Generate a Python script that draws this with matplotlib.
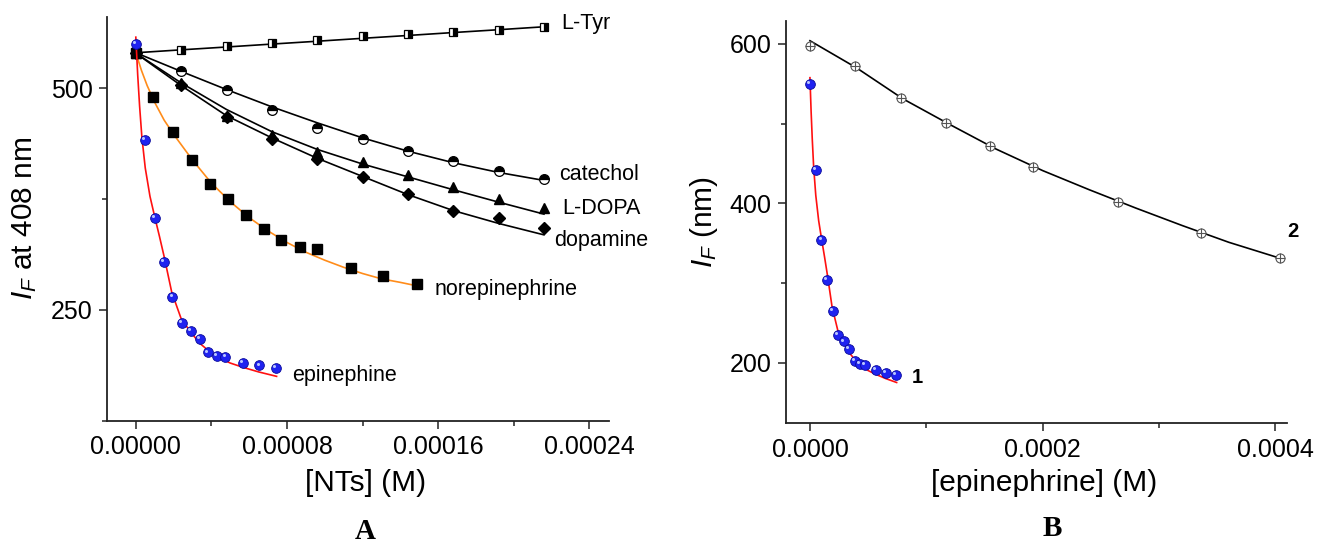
import numpy as np
import matplotlib
matplotlib.use("Agg")
import matplotlib.pyplot as plt
from matplotlib.ticker import FormatStrFormatter, MultipleLocator
from matplotlib.transforms import offset_copy

plt.rcParams['font.family'] = ['Liberation Sans', 'DejaVu Sans']
plt.rcParams['mathtext.fontset'] = 'custom'
plt.rcParams['mathtext.rm'] = 'Liberation Sans'
plt.rcParams['mathtext.it'] = 'Liberation Sans:italic'

# ---- panel A: quenching by the neurotransmitters ----
nt_x = [0, 2.4e-5, 4.8e-5, 7.2e-5, 9.6e-5, 1.2e-4, 1.44e-4, 1.68e-4, 1.92e-4, 2.16e-4]
tyr_y = [541, 543.5, 547.5, 551, 554.5, 558.5, 561, 563.5, 566, 569]
tyr_fit = [540, 543.3, 546.5, 549.8, 553, 556.3, 559.5, 562.8, 566, 569.3]
catechol_y = [540, 519, 498, 475.5, 455, 443, 429.6, 418, 407, 397.5]
catechol_fit = [540, 519, 498.5, 479, 461, 444, 429, 416, 405, 396]
ldopa_y = [540, 506, 468.5, 447, 428.5, 417, 402, 388.4, 374.8, 364.7]
ldopa_fit = [539.5, 506, 476, 451, 431, 414.5, 400, 385.5, 371.5, 358]
dopamine_y = [540, 503.7, 467, 443, 420, 399.6, 380.5, 362, 354, 342.8]
dopamine_fit = [539.5, 503, 469, 444, 421, 400.5, 380, 362, 347.5, 334.6]

nor_x = [0, 9.3e-6, 1.99e-5, 2.96e-5, 3.93e-5, 4.87e-5, 5.82e-5, 6.8e-5, 7.7e-5,
         8.7e-5, 9.6e-5, 1.14e-4, 1.31e-4, 1.49e-4]
nor_y = [540, 490.5, 451, 419, 392.5, 375, 357, 341, 328.4, 320.5, 319, 297, 288.4, 279]
nor_fit_x = [0, 3e-6, 6e-6, 1e-5, 1.5e-5, 2e-5, 3e-5, 4e-5, 5e-5, 6e-5, 7e-5, 8e-5,
             9e-5, 1.0e-4, 1.1e-4, 1.2e-4, 1.3e-4, 1.4e-4, 1.49e-4]
nor_fit_y = [540, 520, 503, 484, 464, 448, 419, 393, 372, 354, 339, 326, 315, 306,
             298, 291, 285, 281, 277]

# epinephrine (same set in both panels)
epi_x = [0, 4.9e-6, 9.9e-6, 1.48e-5, 1.94e-5, 2.42e-5, 2.9e-5, 3.38e-5, 3.83e-5,
         4.31e-5, 4.74e-5, 5.66e-5, 6.54e-5, 7.42e-5]
epi_y = [549.8, 442, 353.5, 304, 264.8, 235.2, 226.5, 217.5, 202, 198.3, 196.6,
         190.4, 187.3, 184.5]
epi_fit_x = [0, 1e-6, 2e-6, 3.2e-6, 5e-6, 7.5e-6, 1.0e-5, 1.25e-5, 1.5e-5, 1.9e-5,
             2.4e-5, 2.9e-5, 3.4e-5, 3.9e-5, 4.4e-5, 5.0e-5, 5.7e-5, 6.5e-5, 7.45e-5]
epi_fit_y = [557.6, 515, 480, 445, 410, 378, 355, 333, 310, 270, 240, 225, 212,
             203, 196, 190, 185, 180, 175]

# ---- panel B: curve 2 ----
c2_x = [0, 3.9e-5, 7.85e-5, 1.17e-4, 1.55e-4, 1.92e-4, 2.65e-4, 3.36e-4, 4.04e-4]
c2_y = [598, 572.7, 532.5, 501, 472, 446, 401, 363, 331]
c2_fit_x = [0, 4e-5, 8e-5, 1.2e-4, 1.6e-4, 2e-4, 2.4e-4, 2.8e-4, 3.2e-4, 3.6e-4, 4.04e-4]
c2_fit_y = [604, 570, 531, 499, 468, 441, 417, 394, 372, 351, 331]

a_xticks = [0, 0.00008, 0.00016, 0.00024]
a_yticks = [250, 500]
b_xticks = [0, 0.0002, 0.0004]
b_yticks = [200, 400, 600]

fig = plt.figure(figsize=(13.17, 5.45), dpi=100)
axA = fig.add_axes([0.0816, 0.2281, 0.3808, 0.7413])
axB = fig.add_axes([0.5968, 0.2239, 0.3804, 0.7382])

for ax in (axA, axB):
    for s in ('top', 'right'):
        ax.spines[s].set_visible(False)
    for s in ('left', 'bottom'):
        ax.spines[s].set_linewidth(1.3)
        ax.spines[s].set_color('#222222')
    ax.tick_params(which='major', direction='out', length=6, width=1.1,
                   labelsize=18, pad=4.5, color='#222222')
    ax.tick_params(which='minor', direction='out', length=3.5, width=1.1,
                   color='#222222')


def spheres(ax, x, y):
    ax.plot(x, y, 'o', ms=7, mfc='#1f22f0', mec='#0a0a9a', mew=0.6, zorder=5)
    hl = offset_copy(ax.transData, fig=fig, x=-1.3, y=1.3, units='points')
    ax.plot(x, y, 'o', ms=2.2, mfc='#b8c4ff', mec='none', transform=hl, zorder=6)


lw = 1.2
# panel A
axA.plot(nt_x, tyr_fit, color='k', lw=lw, zorder=2)
axA.plot(nt_x, catechol_fit, color='k', lw=lw, zorder=2)
axA.plot(nt_x, ldopa_fit, color='k', lw=lw, zorder=2)
axA.plot(nt_x, dopamine_fit, color='k', lw=lw, zorder=2)
axA.plot(nt_x, tyr_y, 's', ms=6, mfc='k', mec='k', mew=0.9,
         fillstyle='right', markerfacecoloralt='white', zorder=3)
axA.plot(nt_x, catechol_y, 'o', ms=7, mfc='k', mec='k', mew=0.9,
         fillstyle='top', markerfacecoloralt='white', zorder=3)
axA.plot(nt_x, ldopa_y, '^', ms=7.5, color='k', zorder=3)
axA.plot(nt_x, dopamine_y, 'D', ms=6.5, color='k', zorder=3)
axA.plot(nor_fit_x, nor_fit_y, color='#ff8c1a', lw=lw, zorder=2)
axA.plot(nor_x, nor_y, 's', ms=6.5, color='k', zorder=3)
axA.plot(epi_fit_x, epi_fit_y, color='#ff1010', lw=lw, zorder=4)
spheres(axA, epi_x, epi_y)

axA.set_xlim(-1.5e-5, 2.504e-4)
axA.set_ylim(125, 580.7)
axA.set_xticks(a_xticks)
axA.set_yticks(a_yticks)
axA.xaxis.set_minor_locator(MultipleLocator(0.00004))
axA.yaxis.set_minor_locator(MultipleLocator(125))
axA.xaxis.set_major_formatter(FormatStrFormatter('%.5f'))

fs_lab = 15.5
axA.text(2.25e-4, 573, 'L-Tyr', fontsize=fs_lab, va='center')
axA.text(2.242e-4, 403, 'catechol', fontsize=fs_lab, va='center')
axA.text(2.257e-4, 364.5, 'L-DOPA', fontsize=fs_lab, va='center')
axA.text(2.213e-4, 328.5, 'dopamine', fontsize=fs_lab, va='center')
axA.text(1.582e-4, 272.7, 'norepinephrine', fontsize=fs_lab, va='center')
axA.text(8.27e-5, 176.3, 'epinephine', fontsize=fs_lab, va='center')

axA.set_xlabel('[NTs] (M)', fontsize=21.5)
axA.xaxis.label.set_va('center')
axA.xaxis.set_label_coords(0.515, -0.154)
axA.set_ylabel('$I_F$ at 408 nm', fontsize=21.5)
axA.yaxis.label.set_va('center')
axA.yaxis.set_label_coords(-0.1645, 0.5)

# panel B
axB.plot(c2_fit_x, c2_fit_y, color='k', lw=lw, zorder=2)
axB.plot(c2_x, c2_y, 'o', ms=6.5, mfc='white', mec='#555555', mew=0.8, zorder=3)
axB.plot(c2_x, c2_y, '+', ms=6.5, color='#555555', mew=0.8, zorder=4)
axB.plot(epi_fit_x, epi_fit_y, color='#ff1010', lw=lw, zorder=4)
spheres(axB, epi_x, epi_y)

axB.set_xlim(-2.06e-5, 4.10e-4)
axB.set_ylim(124.2, 629.2)
axB.set_xticks(b_xticks)
axB.set_yticks(b_yticks)
axB.xaxis.set_minor_locator(MultipleLocator(0.0001))
axB.yaxis.set_minor_locator(MultipleLocator(100))
axB.xaxis.set_major_formatter(FormatStrFormatter('%.4f'))

axB.text(8.75e-5, 181.7, '1', fontsize=14.5, fontweight='bold', va='center')
axB.text(4.1e-4, 364.7, '2', fontsize=14.5, fontweight='bold', va='center')

axB.set_xlabel('[epinephrine] (M)', fontsize=21.5)
axB.xaxis.label.set_va('center')
axB.xaxis.set_label_coords(0.516, -0.148)
axB.set_ylabel('$I_F$ (nm)', fontsize=21.5)
axB.yaxis.label.set_va('center')
axB.yaxis.set_label_coords(-0.1637, 0.5)

fig.text(0.277, 0.0246, 'A', fontsize=21, fontweight='bold',
         family='Liberation Serif', ha='center', va='center')
fig.text(0.7988, 0.0294, 'B', fontsize=21, fontweight='bold',
         family='Liberation Serif', ha='center', va='center')

fig.savefig('out.png', dpi=100)
